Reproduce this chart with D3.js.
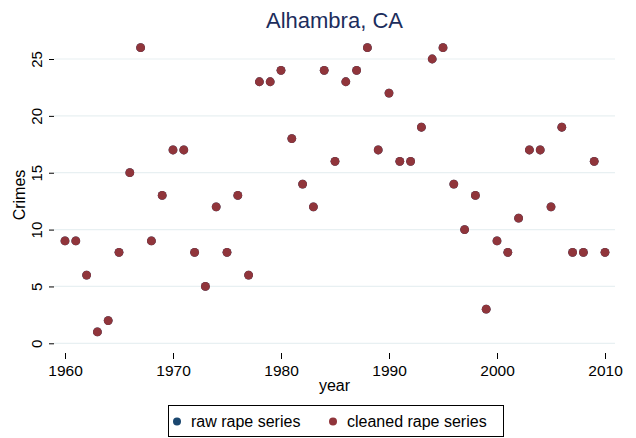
<!DOCTYPE html>
<html>
<head>
<meta charset="utf-8">
<script src="https://cdn.jsdelivr.net/npm/d3@7"></script>
<style>
  body { margin: 0; background: #fff; }
  svg text { font-family: "Liberation Sans", Arial, sans-serif; fill: #000; }
</style>
</head>
<body>
<svg id="chart" width="636" height="438"></svg>
<script>
// crimes per year, Alhambra CA
const years = d3.range(1960, 2011);
const cleaned = [9, 9, 6, 1, 2, 8, 15, 26, 9, 13,
  17, 17, 8, 5, 12, 8, 13, 6, 23, 23,
  24, 18, 14, 12, 24, 16, 23, 24, 26, 17,
  22, 16, 16, 19, 25, 26, 14, 10, 13, 3,
  9, 8, 11, 17, 17, 12, 19, 8, 8, 16,
  8];
// raw series sits under the cleaned one (same values)
const raw = cleaned.slice();
const xTicks = [1960, 1970, 1980, 1990, 2000, 2010];
const yTicks = [0, 5, 10, 15, 20, 25];
const seriesNames = ["raw rape series", "cleaned rape series"];
const seriesColors = ["#1a476f", "#90353b"];

const svg = d3.select("#chart");

const plot = {left: 54, right: 615, top: 37, bottom: 353};

let x = d3.scaleLinear().domain([1960, 2010]).range([65, 605]);
let y = d3.scaleLinear().domain([0, 25]).range([343.3, 59]);

// gridlines
svg.append("g")
  .selectAll("line")
  .data(yTicks)
  .enter().append("line")
  .attr("x1", plot.left).attr("x2", plot.right)
  .attr("y1", d => y(d)).attr("y2", d => y(d))
  .attr("stroke", "#e8f0f2")
  .attr("stroke-width", 1.2);

// y axis
let yAxis = svg.append("g")
  .attr("transform", `translate(${plot.left},0)`)
  .call(d3.axisLeft(y).tickValues(yTicks).tickSize(5).tickPadding(0).tickFormat(d3.format("d")));
yAxis.select(".domain").remove();
yAxis.selectAll(".tick line").attr("stroke", "#000");
yAxis.selectAll(".tick text")
  .attr("x", null).attr("dy", null)
  .attr("transform", "translate(-12,0) rotate(-90)")
  .attr("text-anchor", "middle")
  .style("font-size", "15px");

// x axis
let xAxis = svg.append("g")
  .attr("transform", `translate(0,${plot.bottom})`)
  .call(d3.axisBottom(x).tickValues(xTicks).tickSize(6).tickFormat(d3.format("d")));
xAxis.select(".domain").remove();
xAxis.selectAll(".tick line").attr("stroke", "#000");
xAxis.selectAll(".tick text")
  .attr("y", 23).attr("dy", null)
  .style("font-size", "15.5px");

// titles
svg.append("text")
  .attr("x", (plot.left + plot.right) / 2).attr("y", 28)
  .attr("text-anchor", "middle")
  .style("font-size", "22px")
  .style("fill", "#1c2d5c")
  .text("Alhambra, CA");

svg.append("text")
  .attr("x", (plot.left + plot.right) / 2).attr("y", 391)
  .attr("text-anchor", "middle")
  .style("font-size", "16px")
  .text("year");

svg.append("text")
  .attr("transform", `translate(25,${(plot.top + plot.bottom) / 2}) rotate(-90)`)
  .attr("text-anchor", "middle")
  .style("font-size", "16px")
  .text("Crimes");

// points
[raw, cleaned].forEach((vals, i) => {
  svg.append("g")
    .selectAll("circle")
    .data(years.map((yr, j) => ({yr, v: vals[j]})))
    .enter().append("circle")
    .attr("cx", d => x(d.yr))
    .attr("cy", d => y(d.v))
    .attr("r", 4.4)
    .attr("fill", seriesColors[i]);
});

// legend
let legend = svg.append("g");
legend.append("rect")
  .attr("x", 168.5).attr("y", 405.5)
  .attr("width", 335).attr("height", 31)
  .attr("fill", "#fff").attr("stroke", "#000");
let legX = [177, 333];
seriesNames.forEach((name, i) => {
  legend.append("circle")
    .attr("cx", legX[i]).attr("cy", 421.5).attr("r", 4)
    .attr("fill", seriesColors[i]);
  legend.append("text")
    .attr("x", legX[i] + 14).attr("y", 427)
    .style("font-size", "16px")
    .text(name);
});
</script>
</body>
</html>
